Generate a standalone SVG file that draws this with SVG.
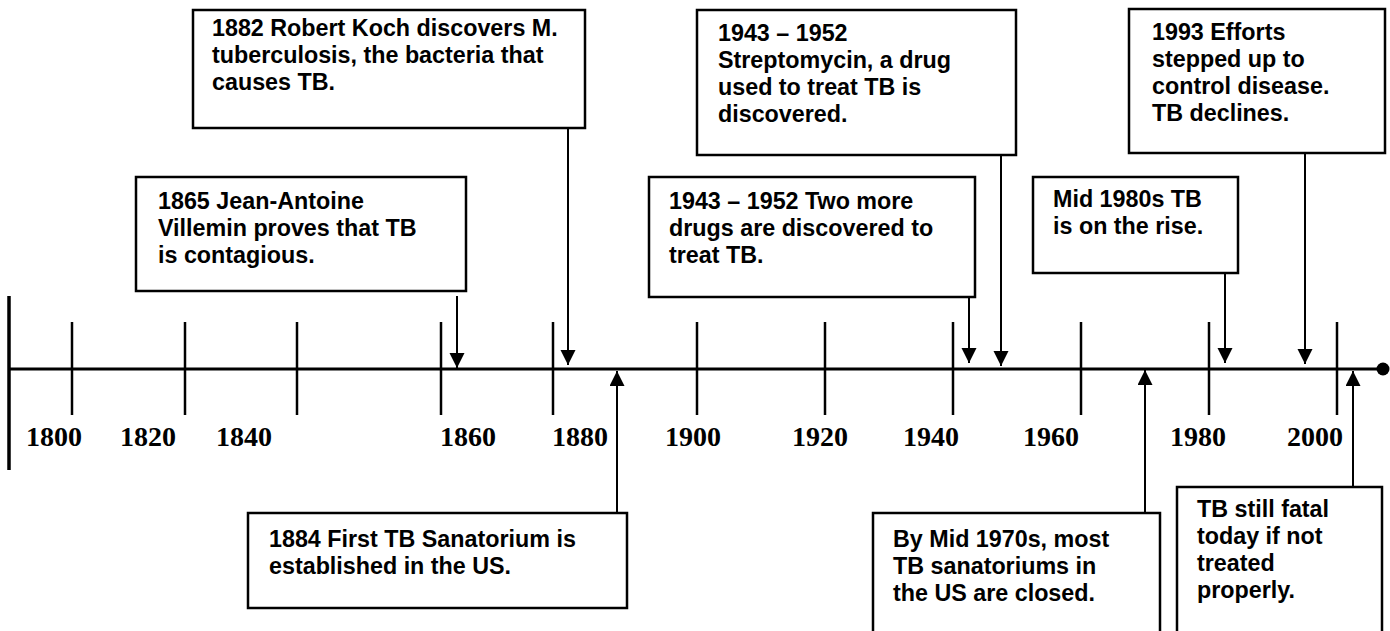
<svg xmlns="http://www.w3.org/2000/svg" width="1390" height="631" viewBox="0 0 1390 631">
<style>
.box{fill:#fff;stroke:#000;stroke-width:2.5}
.t{font-family:"Liberation Sans",Arial,sans-serif;font-weight:bold;font-size:23.3px;fill:#000}
.yr{font-family:"Liberation Serif","Times New Roman",serif;font-weight:bold;font-size:28px;fill:#000}
.tick{stroke:#000;stroke-width:2.5}
.conn{stroke:#000;stroke-width:2;fill:none}
</style>
<defs>
<marker id="ah" markerUnits="userSpaceOnUse" markerWidth="16" markerHeight="16" refX="15" refY="7.5" orient="auto">
<path d="M0,0 L15,7.5 L0,15 z" fill="#000"/>
</marker>
</defs>
<rect width="1390" height="631" fill="#fff"/>
<g id="axis">
<line x1="9" y1="296" x2="9" y2="470" stroke="#000" stroke-width="3.5"/>
<line x1="9" y1="369" x2="1383" y2="369" stroke="#000" stroke-width="3"/>
<circle cx="1383" cy="369" r="6.5" fill="#000"/>
<line class="tick" x1="72" y1="322" x2="72" y2="415"/>
<line class="tick" x1="185" y1="322" x2="185" y2="415"/>
<line class="tick" x1="297" y1="322" x2="297" y2="415"/>
<line class="tick" x1="441" y1="322" x2="441" y2="415"/>
<line class="tick" x1="553" y1="322" x2="553" y2="415"/>
<line class="tick" x1="697" y1="322" x2="697" y2="415"/>
<line class="tick" x1="825" y1="322" x2="825" y2="415"/>
<line class="tick" x1="953" y1="322" x2="953" y2="415"/>
<line class="tick" x1="1081" y1="322" x2="1081" y2="415"/>
<line class="tick" x1="1209" y1="322" x2="1209" y2="415"/>
<line class="tick" x1="1337" y1="322" x2="1337" y2="415"/>
<text class="yr" x="26" y="446">1800</text>
<text class="yr" x="120" y="446">1820</text>
<text class="yr" x="216" y="446">1840</text>
<text class="yr" x="440" y="446">1860</text>
<text class="yr" x="552" y="446">1880</text>
<text class="yr" x="665" y="446">1900</text>
<text class="yr" x="792" y="446">1920</text>
<text class="yr" x="903" y="446">1940</text>
<text class="yr" x="1023" y="446">1960</text>
<text class="yr" x="1170" y="446">1980</text>
<text class="yr" x="1287" y="446">2000</text>
</g>
<g id="connectors">
<line class="conn" x1="457" y1="296" x2="457" y2="368" marker-end="url(#ah)"/>
<line class="conn" x1="568" y1="128" x2="568" y2="365" marker-end="url(#ah)"/>
<line class="conn" x1="617" y1="513" x2="617" y2="371" marker-end="url(#ah)"/>
<line class="conn" x1="969" y1="297" x2="969" y2="363" marker-end="url(#ah)"/>
<line class="conn" x1="1001" y1="155" x2="1001" y2="366" marker-end="url(#ah)"/>
<line class="conn" x1="1145" y1="513" x2="1145" y2="370" marker-end="url(#ah)"/>
<line class="conn" x1="1225" y1="273" x2="1225" y2="363" marker-end="url(#ah)"/>
<line class="conn" x1="1305" y1="153" x2="1305" y2="364" marker-end="url(#ah)"/>
<line class="conn" x1="1353" y1="487" x2="1353" y2="371" marker-end="url(#ah)"/>
</g>
<g id="n1865">
<rect class="box" x="136" y="177" width="330" height="114"/>
<text class="t" x="158" y="209"><tspan x="158">1865 Jean-Antoine</tspan><tspan x="158" dy="27">Villemin proves that TB</tspan><tspan x="158" dy="27">is contagious.</tspan></text>
</g>
<g id="n1882">
<rect class="box" x="193" y="10" width="392" height="118"/>
<text class="t" x="212" y="36"><tspan x="212">1882 Robert Koch discovers M.</tspan><tspan x="212" dy="27">tuberculosis, the bacteria that</tspan><tspan x="212" dy="27">causes TB.</tspan></text>
</g>
<g id="n1884">
<rect class="box" x="248" y="513" width="379" height="95"/>
<text class="t" x="269" y="547"><tspan x="269">1884 First TB Sanatorium is</tspan><tspan x="269" dy="27">established in the US.</tspan></text>
</g>
<g id="n1943a">
<rect class="box" x="649" y="177" width="326" height="120"/>
<text class="t" x="669" y="209"><tspan x="669">1943 – 1952 Two more</tspan><tspan x="669" dy="27">drugs are discovered to</tspan><tspan x="669" dy="27">treat TB.</tspan></text>
</g>
<g id="n1943b">
<rect class="box" x="697" y="10" width="319" height="145"/>
<text class="t" x="718" y="41"><tspan x="718">1943 – 1952</tspan><tspan x="718" dy="27">Streptomycin, a drug</tspan><tspan x="718" dy="27">used to treat TB is</tspan><tspan x="718" dy="27">discovered.</tspan></text>
</g>
<g id="n1970">
<rect class="box" x="873" y="513" width="287" height="130"/>
<text class="t" x="893" y="547"><tspan x="893">By Mid 1970s, most</tspan><tspan x="893" dy="27">TB sanatoriums in</tspan><tspan x="893" dy="27">the US are closed.</tspan></text>
</g>
<g id="n1980">
<rect class="box" x="1033" y="177" width="205" height="96"/>
<text class="t" x="1053" y="207"><tspan x="1053">Mid 1980s TB</tspan><tspan x="1053" dy="27">is on the rise.</tspan></text>
</g>
<g id="n1993">
<rect class="box" x="1129" y="9" width="256" height="144"/>
<text class="t" x="1152" y="40"><tspan x="1152">1993 Efforts</tspan><tspan x="1152" dy="27">stepped up to</tspan><tspan x="1152" dy="27">control disease.</tspan><tspan x="1152" dy="27">TB declines.</tspan></text>
</g>
<g id="nfatal">
<rect class="box" x="1177" y="487" width="205" height="160"/>
<text class="t" x="1197" y="517"><tspan x="1197">TB still fatal</tspan><tspan x="1197" dy="27">today if not</tspan><tspan x="1197" dy="27">treated</tspan><tspan x="1197" dy="27">properly.</tspan></text>
</g>
</svg>
